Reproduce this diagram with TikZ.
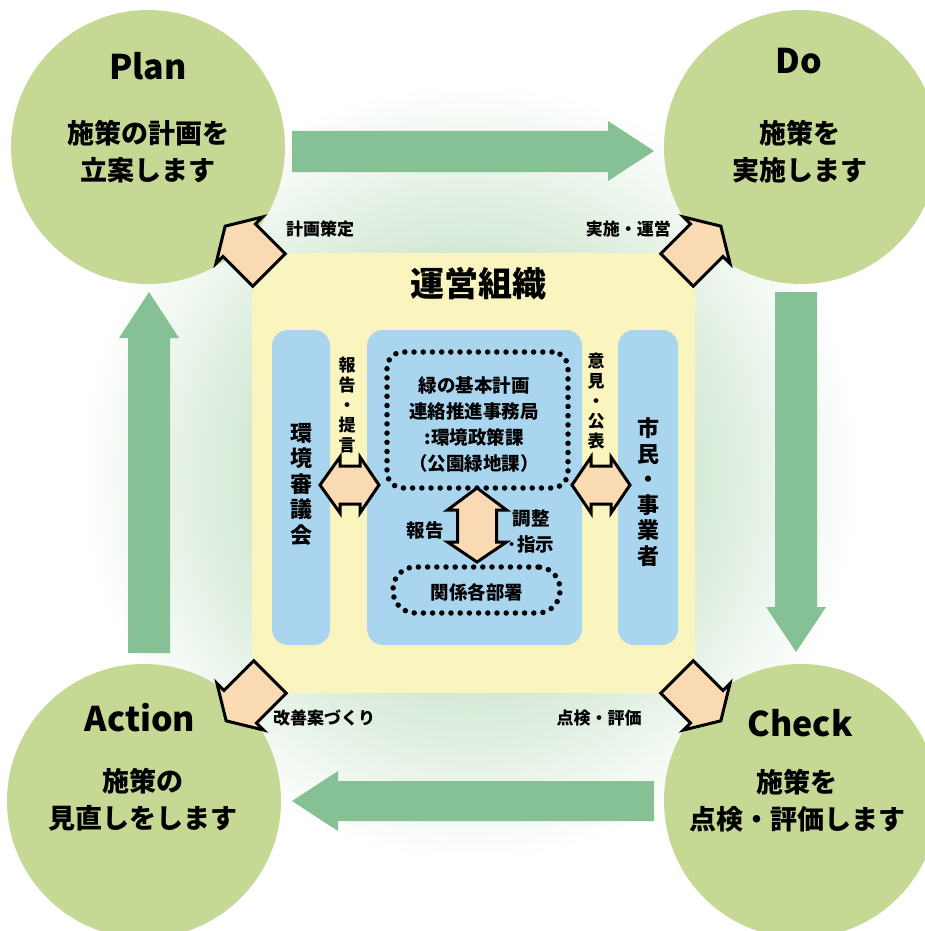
\documentclass[tikz,border=0pt]{standalone}
\usepackage{fontspec}
\setmainfont{Noto Sans CJK JP}
\definecolor{glowc}{RGB}{212,233,213}
\definecolor{circg}{RGB}{198,217,148}
\definecolor{arrg}{RGB}{133,193,149}
\definecolor{panelb}{RGB}{170,213,238}
\definecolor{yel}{RGB}{250,245,190}
\definecolor{peachc}{RGB}{249,218,178}
\pgfdeclareradialshading{glowshade}{\pgfpoint{0bp}{0bp}}{color(0bp)=(glowc); color(11bp)=(glowc); color(19.5bp)=(white); color(50bp)=(white)}
\begin{document}
\begin{tikzpicture}[x=1pt,y=-1pt,
  circ/.style={circle, fill=circg, draw=none, minimum size=274pt, inner sep=0pt},
  garrow/.style={fill=arrg, draw=none},
  pbox/.style={fill=panelb, draw=none, rounded corners=16pt, inner sep=0pt, minimum height=315pt},
  peach/.style={fill=peachc, draw=black, line width=3pt, line join=miter},
  dotbox/.style={draw=black, line width=5.5pt, line cap=round, dash pattern=on 0pt off 9.2pt, inner sep=0pt},
  bigt/.style={font=\bfseries\fontsize{34}{38}\selectfont, inner sep=0pt},
  capt/.style={font=\bfseries\fontsize{27}{37}\selectfont, align=center, inner sep=0pt},
  lbl/.style={font=\bfseries\fontsize{17}{20}\selectfont, inner sep=0pt},
  intext/.style={font=\bfseries\fontsize{18.5}{26}\selectfont, align=center, inner sep=0pt},
  vlbl/.style={font=\bfseries\fontsize{17}{20}\selectfont, align=center, inner sep=0pt},
  vbig/.style={font=\bfseries\fontsize{22}{25.5}\selectfont, align=center, inner sep=0pt},
  carrow/.pic={\draw[peach] (0,23) -- (42,23) -- (42,33) -- (62,0) -- (42,-33) -- (42,-23) -- (0,-23) -- cycle;}
]
\useasboundingbox (0,0) rectangle (925,931);
\begin{scope}
\clip (0,0) rectangle (925,931);
\shade[shading=glowshade] (470,472) circle (500pt);
% PDCA circles
\node[circ] (plan) at (148,147) {};
\node[circ] (do) at (801,147) {};
\node[circ] (act) at (144,801) {};
\node[circ] (chk) at (801,801) {};
\end{scope}

% green cycle arrows
\draw[garrow] (292,131) -- (608,131) -- (608,121) -- (654,151) -- (608,181) -- (608,172) -- (292,172) -- cycle;
\draw[garrow] (775,292) -- (817,292) -- (817,607) -- (826,607) -- (796,652) -- (766,607) -- (775,607) -- cycle;
\draw[garrow] (654,781) -- (338,781) -- (338,771) -- (292,801) -- (338,831) -- (338,821) -- (654,821) -- cycle;
\draw[garrow] (128,653) -- (128,338) -- (119,338) -- (149,292) -- (179,338) -- (170,338) -- (170,653) -- cycle;

% circle texts
\node[bigt] (planT) at (148,66) {Plan};
\node[capt] (planS) at (148,152) {施策の計画を\\立案します};
\node[bigt] (doT) at (799,61) {Do};
\node[capt] (doS) at (800,152) {施策を\\実施します};
\node[bigt] (actT) at (140,718) {Action};
\node[capt] (actS) at (143,800) {施策の\\見直しをします};
\node[bigt] (chkT) at (800,723) {Check};
\node[capt] (chkS) at (797,801) {施策を\\点検・評価します};

% organisation square
\node[fill=yel, draw=none, minimum width=443pt, minimum height=440pt, inner sep=0pt] (org) at (473.5,473) {};
\node[font=\bfseries\fontsize{34}{38}\selectfont, inner sep=0pt] (orgT) at (478,284) {運営組織};

% panels
\node[pbox, minimum width=58pt] (kan) at (301,487.5) {};
\node[pbox, minimum width=215pt] (sec) at (474.5,487.5) {};
\node[pbox, minimum width=60pt] (shi) at (648,487.5) {};

\node[vbig] (kanT) at (301,484) {環\\境\\審\\議\\会};
\node[vbig] (shiT) at (648,492) {市\\民\\・\\事\\業\\者};

% dotted boxes
\node[dotbox, rounded corners=16pt, minimum width=181pt, minimum height=136pt] (jim) at (477.5,420) {};
\node[intext] (jimT) at (474,425) {緑の基本計画\\連絡推進事務局\\:環境政策課\\（公園緑地課）};
\node[dotbox, rounded corners=22pt, minimum width=167pt, minimum height=46pt] (bus) at (476.5,590) {};
\node[intext] (busT) at (477,592) {関係各部署};

% double arrows
\draw[peach] (320,485) -- (340,457) -- (340,466) -- (360,466) -- (360,457) -- (379,485) -- (360,513) -- (360,504) -- (340,504) -- (340,513) -- cycle;
\draw[peach] (572,485) -- (591,457) -- (591,466) -- (611,466) -- (611,457) -- (630,485) -- (611,513) -- (611,504) -- (591,504) -- (591,513) -- cycle;
\draw[peach] (477,488) -- (506.5,510) -- (496.5,510) -- (496.5,542) -- (506.5,542) -- (477,562) -- (447.5,542) -- (457.5,542) -- (457.5,510) -- (447.5,510) -- cycle;

% inner labels
\node[vlbl] (hk) at (347,405) {報\\告\\・\\提\\言};
\node[vlbl] (ik) at (596,401) {意\\見\\・\\公\\表};
\node[intext] (hok) at (425,530) {報告};
\node[intext] (cho) at (531,531) {調整\\･指示};

% corner arrows
\pic[rotate=135] at (269,270) {carrow};
\pic[rotate=45] at (677,270) {carrow};
\pic[rotate=225] at (270,677) {carrow};
\pic[rotate=-45] at (677,677) {carrow};

% corner labels
\node[lbl] (l1) at (320,229) {計画策定};
\node[lbl, anchor=east] (l2) at (671,229) {実施・運営};
\node[lbl] (l3) at (324,718) {改善案づくり};
\node[lbl] (l4) at (599,718) {点検・評価};
\end{tikzpicture}
\end{document}
